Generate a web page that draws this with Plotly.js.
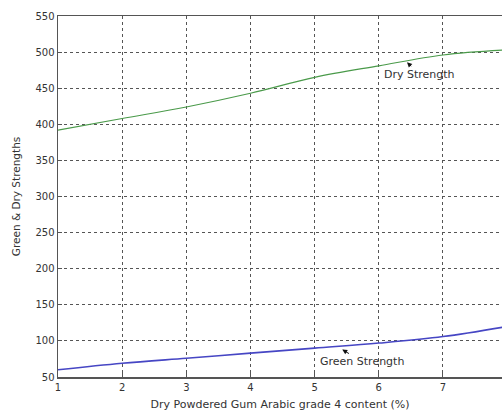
<!DOCTYPE html>
<html>
<head>
<meta charset="utf-8">
<script src="https://cdn.plot.ly/plotly-3.0.1.min.js"></script>
<style>html,body{margin:0;padding:0;background:#fff;}#chart{width:502px;height:417px;}</style>
</head>
<body>
<div id="chart"></div>
<script>
const content = [1, 2, 3, 4, 5, 6, 7, 8];
const dryStrength = [392, 408, 424, 443, 465, 481, 496, 503];
const greenStrength = [60, 69, 76, 83, 90, 97, 106, 120];
const xTicks = [1, 2, 3, 4, 5, 6, 7, 8];
const yTicks = [50, 100, 150, 200, 250, 300, 350, 400, 450, 500, 550];

const traces = [
  {x: content, y: dryStrength, mode: 'lines', line: {color: '#4a9a4a', width: 1.2, shape: 'spline'}, hoverinfo: 'skip'},
  {x: content, y: greenStrength, mode: 'lines', line: {color: '#4646c4', width: 1.6, shape: 'spline'}, hoverinfo: 'skip'}
];

const FONT = 'DejaVu Sans, Verdana, sans-serif';

const axisCommon = {
  showgrid: true, gridcolor: '#555', griddash: 'dot', gridwidth: 1,
  showline: true, linecolor: '#555', linewidth: 1.5, mirror: true,
  ticks: 'inside', ticklen: 4, tickcolor: '#555',
  tickfont: {family: FONT, size: 10, color: '#333'},
  zeroline: false
};

const layout = {
  width: 502, height: 417,
  margin: {l: 58, r: 0, t: 16, b: 40},
  paper_bgcolor: '#fff', plot_bgcolor: '#fff',
  showlegend: false,
  xaxis: Object.assign({}, axisCommon, {
    range: [1, 7.92], tickvals: xTicks,
    title: {text: 'Dry Powdered Gum Arabic grade 4 content (%)', font: {family: FONT, size: 11, color: '#333'}, standoff: 9}
  }),
  yaxis: Object.assign({}, axisCommon, {
    range: [50, 550], tickvals: yTicks,
    title: {text: 'Green & Dry Strengths', font: {family: FONT, size: 10.5, color: '#333'}, standoff: 12}
  }),
  annotations: [
    {x: 6.44, y: 486, xref: 'x', yref: 'y', text: 'Dry Strength', showarrow: true,
     arrowhead: 2, arrowsize: 1, arrowwidth: 1, arrowcolor: '#111', ax: 12, ay: 12, standoff: 0,
     font: {family: FONT, size: 11, color: '#333'}},
    {x: 5.43, y: 88, xref: 'x', yref: 'y', text: 'Green Strength', showarrow: true,
     arrowhead: 2, arrowsize: 1, arrowwidth: 1, arrowcolor: '#111', ax: 20, ay: 12, standoff: 0,
     font: {family: FONT, size: 11, color: '#333'}}
  ]
};

Plotly.newPlot('chart', traces, layout, {staticPlot: true, displayModeBar: false});
</script>
</body>
</html>
